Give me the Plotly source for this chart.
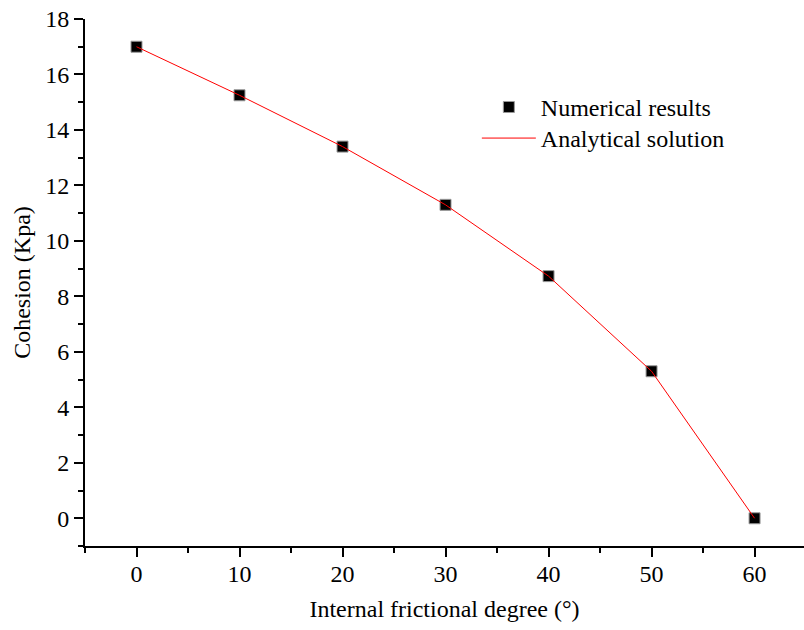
import plotly.graph_objects as go

friction_deg = [0, 10, 20, 30, 40, 50, 60]
numerical_cohesion = [17.0, 15.25, 13.4, 11.3, 8.73, 5.3, 0.0]
analytical_cohesion = [17.0, 15.25, 13.4, 11.3, 8.73, 5.3, 0.0]

FONT = "Liberation Serif, Times New Roman, serif"
FS = 24

fig = go.Figure()
fig.add_trace(go.Scatter(
    x=friction_deg, y=numerical_cohesion, mode="markers",
    name="Numerical results", legend="legend",
    marker=dict(symbol="square", size=11, color="black",
                line=dict(color="#999999", width=1)),
))
fig.add_trace(go.Scatter(
    x=friction_deg, y=analytical_cohesion, mode="lines",
    name="Analytical solution", legend="legend2",
    line=dict(color="red", width=1),
))

axis_common = dict(
    showline=True, linecolor="black", linewidth=2,
    ticks="outside", ticklen=9, tickwidth=2, tickcolor="black",
    showgrid=False, zeroline=False,
    tickfont=dict(family=FONT, size=FS, color="black"),
)

leg_common = dict(xanchor="left", yanchor="top", bgcolor="rgba(0,0,0,0)",
                  font=dict(family=FONT, size=FS, color="black"), itemwidth=54)

fig.update_layout(
    width=804, height=630,
    margin=dict(l=85, r=0, t=19, b=84),
    paper_bgcolor="white", plot_bgcolor="white",
    font=dict(family=FONT, size=FS, color="black"),
    showlegend=True,
    legend=dict(x=0.545, y=0.875, **leg_common),
    legend2=dict(x=0.545, y=0.816, **leg_common),
    xaxis=dict(range=[-5, 64.8], tickvals=[0, 10, 20, 30, 40, 50, 60],
               ticklabelstandoff=-4,
               title=dict(text="Internal frictional degree (°)",
                          font=dict(family=FONT, size=FS), standoff=14),
               minor=dict(ticks="outside", ticklen=5, tickwidth=2, tickcolor="black",
                          tickvals=[-5, 5, 15, 25, 35, 45, 55, 65]),
               **axis_common),
    yaxis=dict(range=[-1, 18], tickvals=[0, 2, 4, 6, 8, 10, 12, 14, 16, 18],
               ticklabelstandoff=0,
               title=dict(text="Cohesion (Kpa)", font=dict(family=FONT, size=FS), standoff=8),
               minor=dict(ticks="outside", ticklen=5, tickwidth=2, tickcolor="black",
                          tickvals=[-1, 1, 3, 5, 7, 9, 11, 13, 15, 17]),
               **axis_common),
)

fig.write_html("out.html")
